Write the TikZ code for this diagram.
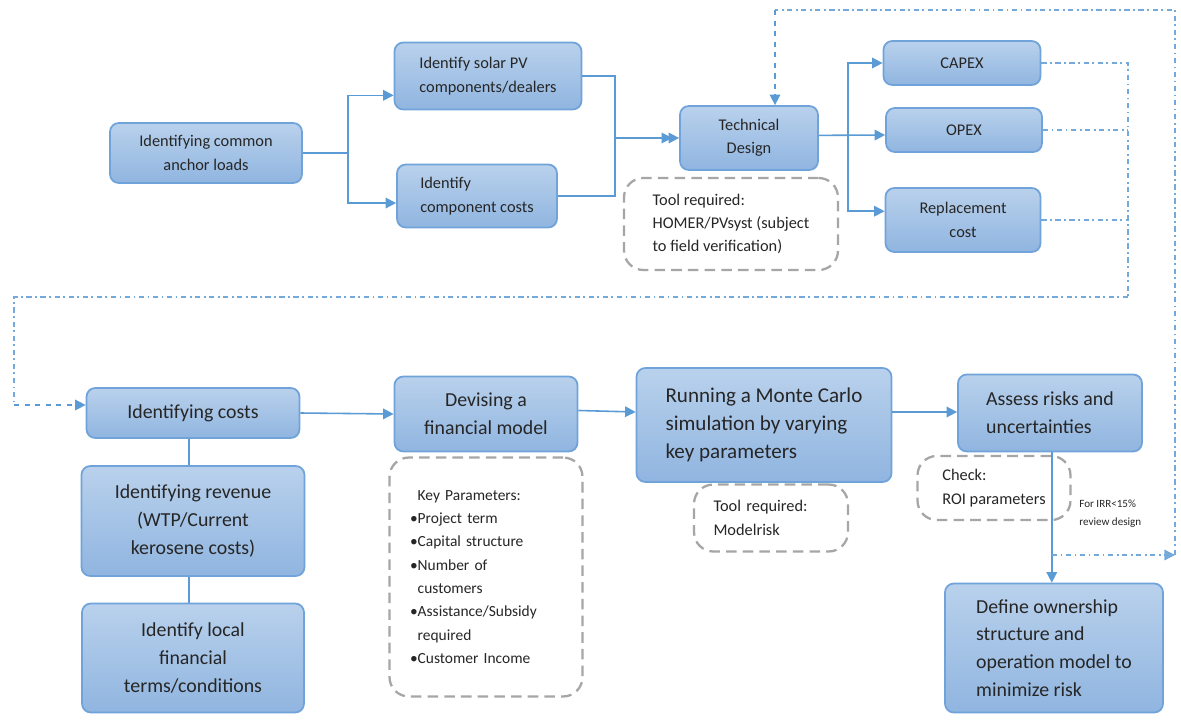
\documentclass[tikz,border=0pt]{standalone}
\usepackage{fontspec}
\setmainfont{Carlito}
\usetikzlibrary{arrows.meta}
\definecolor{boxtop}{HTML}{B9D1EC}
\definecolor{boxbot}{HTML}{90B5E0}
\definecolor{boxline}{HTML}{70A3DA}
\definecolor{linkblue}{HTML}{5B9BD5}
\definecolor{notegray}{HTML}{A6A6A6}
\definecolor{txt}{HTML}{262626}
\newcommand{\bl}{\textbullet}
\newcommand{\nb}{\phantom{\textbullet}}

\tikzset{
  box/.style={draw=boxline, line width=1pt, rounded corners=5pt,
    top color=boxtop, bottom color=boxbot, text=txt, inner sep=2pt},
  note/.style={draw=notegray, line width=1.3pt, dash pattern=on 6pt off 3.5pt,
    rounded corners=11pt, text=txt, inner sep=2pt},
  link/.style={draw=linkblue, line width=0.9pt, -{Triangle[width=6pt,length=6pt]}},
  plain/.style={draw=linkblue, line width=0.9pt},
  fb/.style={draw=linkblue!85, line width=0.8pt, dash pattern=on 3pt off 2pt on 1pt off 2pt},
  ft/.style={font=\fontsize{9.3}{13.3}\selectfont},
  fm/.style={font=\fontsize{8.8}{13.3}\selectfont},
  fl/.style={font=\fontsize{11.3}{15.8}\selectfont},
  fs/.style={font=\fontsize{6.3}{10}\selectfont},
}

\begin{document}
\begin{tikzpicture}[x=0.02cm, y=-0.02cm]
  \useasboundingbox[fill=white] (0,0) rectangle (1181,720);
  % top row
  \node[box, ft, minimum width=3.84cm, minimum height=1.2cm, align=center] (anchor) at (206,153)
    {Identifying common\\anchor loads};
  \node[box, ft, minimum width=3.74cm, minimum height=1.34cm, align=left] (solar) at (488,76)
    {Identify solar PV\\components/dealers};
  \node[box, ft, minimum width=3.2cm, minimum height=1.26cm, align=left] (compcost) at (477,196)
    {Identify\\component costs};
  \node[box, ft, minimum width=2.76cm, minimum height=1.28cm, align=center] (tech) at (749,138)
    {Technical\\Design};
  \node[note, ft, minimum width=4.28cm, minimum height=1.84cm, align=left] (tooltech) at (731,224)
    {Tool required:\\HOMER/PVsyst (subject\\to field verification)};
  \node[box, ft, minimum width=3.14cm, minimum height=0.88cm] (capex) at (962,63) {CAPEX};
  \node[box, ft, minimum width=3.12cm, minimum height=0.88cm] (opex) at (964,130) {OPEX};
  \node[box, ft, minimum width=3.1cm, minimum height=1.28cm, align=center] (repl) at (963,220)
    {Replacement\\cost};

  % bottom row
  \node[box, fl, minimum width=4.26cm, minimum height=1.0cm] (costs) at (193,413) {Identifying costs};
  \node[box, fl, minimum width=4.46cm, minimum height=2.2cm, align=center] (revenue) at (193,521)
    {Identifying revenue\\(WTP/Current\\kerosene costs)};
  \node[box, fl, minimum width=4.44cm, minimum height=2.18cm, align=center] (local) at (193,658)
    {Identify local\\financial\\terms/conditions};
  \node[box, fl, minimum width=3.66cm, minimum height=1.5cm, align=center] (devise) at (486,414)
    {Devising a\\financial model};
  \node[note, fm, minimum width=3.86cm, minimum height=4.78cm, text width=3.04cm, align=left] (keyparam) at (486,577)
    {\nb Key Parameters:\\\bl Project term\\\bl Capital structure\\\bl Number of\\\nb customers\\
     \bl Assistance/Subsidy\\\nb required\\\bl Customer Income};
  \node[box, fl, font=\fontsize{12}{15.8}\selectfont, minimum width=5.1cm, minimum height=2.28cm, align=left] (monte) at (764,425)
    {Running a Monte Carlo\\simulation by varying\\key parameters};
  \node[note, ft, minimum width=3.08cm, minimum height=1.34cm, text width=2.3cm, align=left] (toolmc) at (771,518)
    {Tool required:\\Modelrisk};
  \node[box, fl, minimum width=3.68cm, minimum height=1.54cm, align=left] (assess) at (1050,413)
    {Assess risks and\\uncertainties};
  \node[note, ft, minimum width=3.06cm, minimum height=1.28cm, align=left] (check) at (994,488)
    {Check:\\ROI parameters};
  \node[fs, text=txt, anchor=north west, align=left, inner sep=0pt] (irr) at (1079,500)
    {For IRR<15\%\\review design};
  \node[box, fl, minimum width=4.36cm, minimum height=2.58cm, align=left] (define) at (1054,648)
    {Define ownership\\structure and\\operation model to\\minimize risk};

  % connectors, top row
  \coordinate (split) at (348,153);
  \draw[plain] (anchor.east) -- (split);
  \draw[link] (split) |- ([yshift=-11pt]solar.west);
  \draw[link] (split) |- ([yshift=-4pt]compcost.west);
  \coordinate (merge) at (615,138);
  \draw[link] (solar.east) -| (merge) -- (tech.west);
  \draw[link] (compcost.east) -| (merge) -- ([xshift=-4pt]tech.west);
  \coordinate (fan) at (848,135);
  \draw[link] ([yshift=1.5pt]tech.east) -- (fan -| opex.west);
  \draw[link] (fan) |- (capex.west);
  \draw[link] (fan) |- ([yshift=5pt]repl.west);

  % feedback loops
  \coordinate (rt) at (1128,297);
  \coordinate (lt) at (14,297);
  \coordinate (lb) at (14,405);
  \draw[fb] (capex.east) -| (rt);
  \draw[fb] (opex.east) -- (opex.east -| rt);
  \draw[fb] (repl.east) -- (repl.east -| rt);
  \draw[fb] (rt) -- (lt) -- (lb);
  \draw[link, dashed] (lb) -- (costs.west |- lb);

  % connectors, bottom row
  \draw[plain] (costs.south -| 189,0) -- (revenue.north -| 189,0);
  \draw[plain] (revenue.south -| 189,0) -- (local.north -| 189,0);
  \draw[link] (costs.east) -- (devise.west);
  \draw[link] ([yshift=2pt]devise.east) -- (monte.west |- 0,412);
  \draw[link] (monte.east |- 0,412) -- (assess.west |- 0,412);
  \draw[link] ([xshift=1pt]assess.south) -- ([xshift=1pt]assess.south |- define.north);

  % review loop
  \coordinate (rb) at (1175,555);
  \coordinate (rtop) at (1175,10);
  \coordinate (ttop) at (775,10);
  \draw[fb, -{Triangle[width=6pt,length=6pt]}] ([xshift=1pt]assess.south |- rb) -- (rb);
  \draw[fb] (rb) -- (rtop) -- (ttop);
  \draw[link, dashed] (ttop) -- (ttop |- tech.north);
\end{tikzpicture}
\end{document}
